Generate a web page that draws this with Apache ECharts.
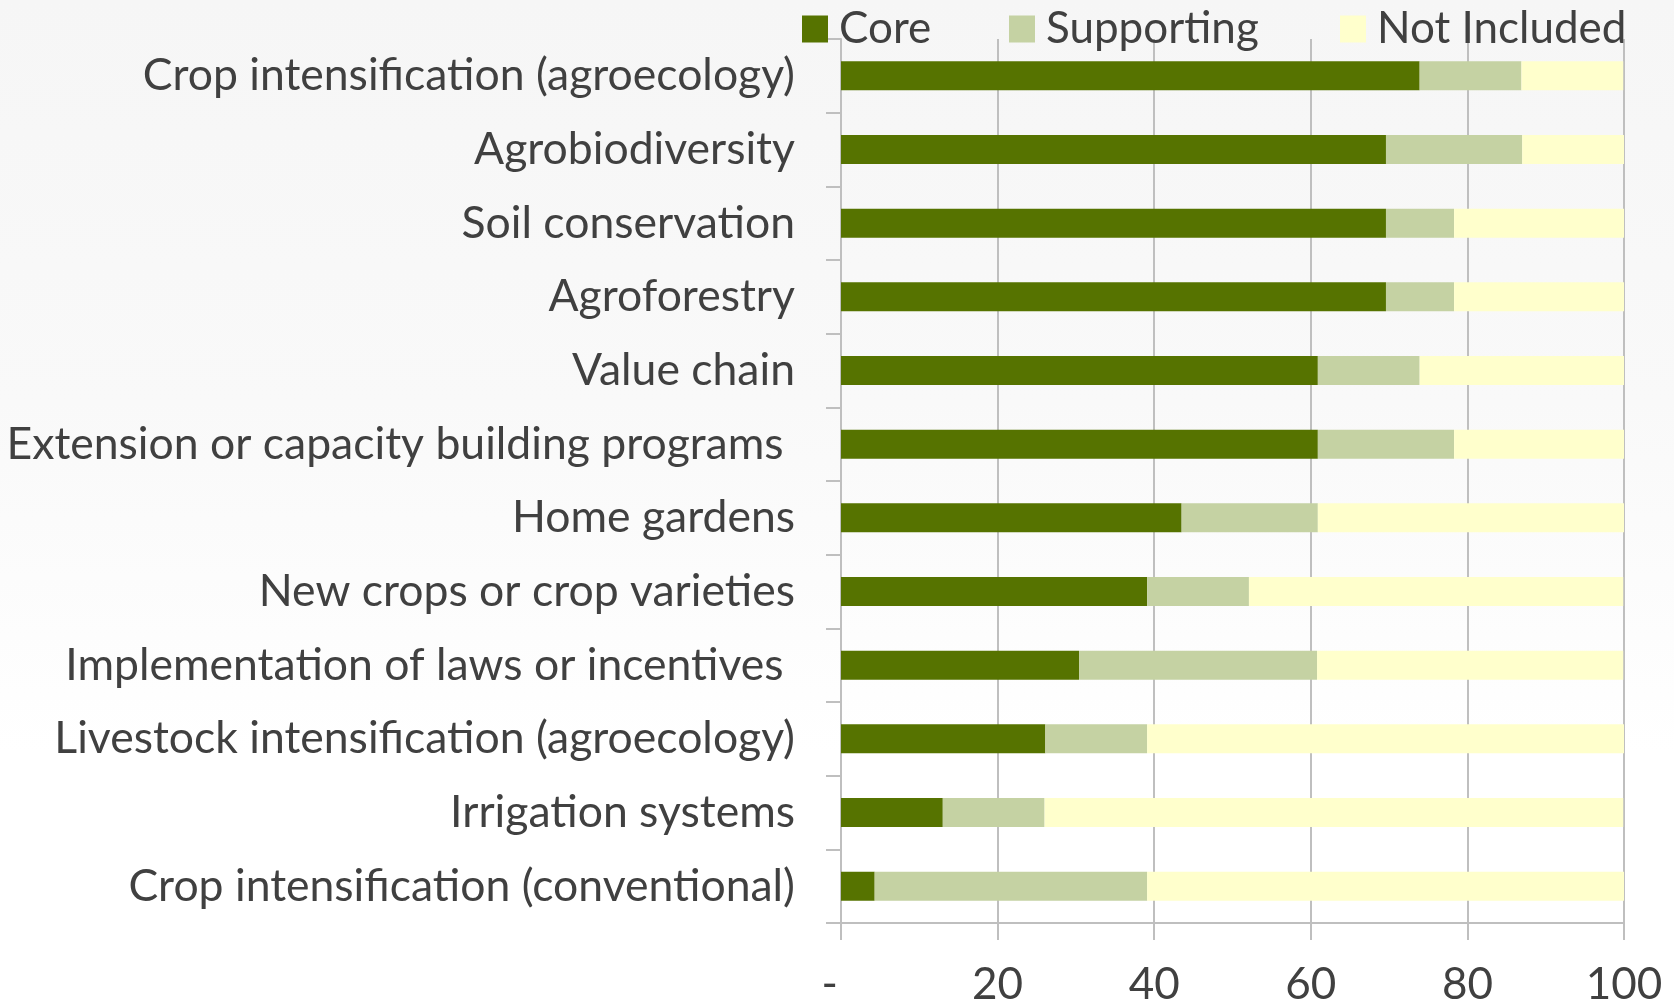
<!DOCTYPE html>
<html>
<head>
<meta charset="utf-8">
<script src="https://cdn.jsdelivr.net/npm/echarts@6/dist/echarts.min.js"></script>
<style>
html,body{margin:0;padding:0;}
#chart{width:1674px;height:1004px;background:linear-gradient(to bottom,#f6f6f6 0%,#f9f9f9 40%,#ffffff 75%);}
</style>
</head>
<body>
<div id="chart"></div>
<script>
const categories = [
  "Crop intensification (agroecology)",
  "Agrobiodiversity",
  "Soil conservation",
  "Agroforestry",
  "Value chain",
  "Extension or capacity building programs ",
  "Home gardens",
  "New crops or crop varieties",
  "Implementation of laws or incentives ",
  "Livestock intensification (agroecology)",
  "Irrigation systems",
  "Crop intensification (conventional)"
];
const core = [73.9, 69.6, 69.6, 69.6, 60.9, 60.9, 43.5, 39.1, 30.4, 26.1, 13.0, 4.3];
const supporting = [13.0, 17.4, 8.7, 8.7, 13.0, 17.4, 17.4, 13.0, 30.4, 13.0, 13.0, 34.8];
const notIncluded = [13.0, 13.0, 21.7, 21.7, 26.1, 21.7, 39.1, 47.8, 39.1, 60.9, 73.9, 60.9];
const seriesNames = ["Core", "Supporting", "Not Included"];
const xTickLabels = ["-  ", "20", "40", "60", "80", "100"];

const FONT = 'Lato, "Open Sans", sans-serif';
const chart = echarts.init(document.getElementById('chart'));
const gridColor = '#bfbfbf';
const legendLefts = [797, 1004, 1335];
chart.setOption({
  animation: false,
  textStyle: { fontFamily: FONT },
  legend: seriesNames.map((n, i) => ({
    left: legendLefts[i], top: 2,
    itemWidth: 26, itemHeight: 27,
    icon: 'rect',
    textStyle: { fontSize: 44, color: '#404040', fontFamily: FONT, padding: [0, 0, 0, 6] },
    data: [n]
  })),
  grid: { left: 841, right: 50, top: 39, bottom: 81, containLabel: false, outerBoundsMode: 'none' },
  xAxis: {
    type: 'value', min: 0, max: 100, interval: 20,
    axisLine: { show: true, lineStyle: { color: gridColor, width: 2 } },
    axisTick: { show: true, length: 17, lineStyle: { color: gridColor, width: 2 } },
    splitLine: { show: true, lineStyle: { color: gridColor, width: 2 } },
    axisLabel: {
      margin: 40, fontSize: 44, color: '#404040', fontFamily: FONT,
      formatter: v => xTickLabels[Math.round(v / 20)]
    }
  },
  yAxis: {
    type: 'category', data: categories, inverse: true,
    axisLine: { show: true, lineStyle: { color: gridColor, width: 2 } },
    axisTick: { show: true, length: 15, lineStyle: { color: gridColor, width: 2 } },
    axisLabel: { margin: 46, fontSize: 44.5, color: '#404040', fontFamily: FONT }
  },
  series: [
    { name: seriesNames[0], type: 'bar', stack: 't', barWidth: 29, data: core, itemStyle: { color: '#567300' } },
    { name: seriesNames[1], type: 'bar', stack: 't', barWidth: 29, data: supporting, itemStyle: { color: '#c5d2a3' } },
    { name: seriesNames[2], type: 'bar', stack: 't', barWidth: 29, data: notIncluded, itemStyle: { color: '#ffffcc' } }
  ]
});
</script>
</body>
</html>
